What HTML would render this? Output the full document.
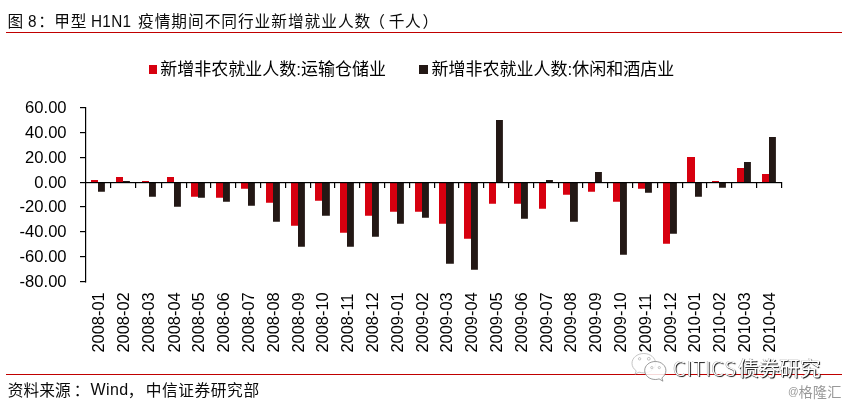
<!DOCTYPE html>
<html lang="zh"><head><meta charset="utf-8"><title>图 8</title>
<style>
html,body{margin:0;padding:0;background:#fff;}
body{width:848px;height:406px;position:relative;overflow:hidden;font-family:"Liberation Sans","Noto Sans CJK SC",sans-serif;color:#111;}
.abs{position:absolute;white-space:nowrap;}
.wrap{position:absolute;left:0;top:0;width:0;height:0;}
.title{top:11px;font-size:15.7px;letter-spacing:0.8px;line-height:22px;color:#0a0a0a;}
.lat{font-size:16.2px;letter-spacing:0.33px;transform:scaleX(0.944);transform-origin:0 100%;top:10.3px;}
.hr{position:absolute;left:6px;width:836px;height:1.5px;background:#c00000;}
.src{top:379.7px;font-size:15.7px;letter-spacing:0.1px;line-height:22px;color:#0a0a0a;}
.src.lat{font-size:16px;letter-spacing:0.45px;transform:none;top:379.1px;}
.lg{font-size:17px;line-height:24px;top:58.4px;color:#000;}
.sq{position:absolute;width:7.5px;height:9px;top:65px;}
svg{position:absolute;left:0;top:0;}
.yl{font-size:17.2px;fill:#000;font-family:"Liberation Sans",sans-serif;}
.xl{font-size:16.45px;fill:#000;font-family:"Liberation Sans",sans-serif;}
.wm{left:673px;top:352.3px;font-size:20.6px;line-height:30px;color:#fff;text-shadow:1px 1px 0.8px #111,-0.5px -0.5px 0.5px #999;font-family:"Noto Sans CJK SC","Liberation Sans",sans-serif;font-weight:400;}
.at{top:382.4px;font-size:14.2px;line-height:20px;color:#999;letter-spacing:0.2px;}
</style></head><body>
<div class="wrap"><span class="abs title" style="left:7.6px">图</span> <span class="abs title lat" style="left:28px">8</span><span class="abs title" style="left:38.3px">：</span><span class="abs title" style="left:54.2px">甲型</span> <span class="abs title lat" style="left:90.6px">H1N1</span> <span class="abs title" style="left:138px;letter-spacing:0.97px">疫情期间不同行业新增就业人数</span><span class="abs title" style="left:369.3px">（</span><span class="abs title" style="left:388.8px;letter-spacing:0.6px">千人</span><span class="abs title" style="left:422.4px">）</span></div>
<div class="hr" style="top:31.5px"></div>
<div class="sq" style="left:149.3px;background:#d7000f"></div>
<div class="abs lg" style="left:160.2px">新增非农就业人数:运输仓储业</div>
<div class="sq" style="left:419.4px;width:8.4px;background:#231815"></div>
<div class="abs lg" style="left:431.5px">新增非农就业人数:休闲和酒店业</div>
<svg width="848" height="406" viewBox="0 0 848 406">
<rect x="91" y="180" width="7" height="2" fill="#d7000f"/>
<rect x="98" y="183" width="6.9" height="8.75" fill="#231815"/>
<rect x="116" y="177" width="7" height="5" fill="#d7000f"/>
<rect x="123" y="181" width="6.9" height="1" fill="#231815"/>
<rect x="142" y="181" width="7" height="1" fill="#d7000f"/>
<rect x="149" y="183" width="6.9" height="13.75" fill="#231815"/>
<rect x="167" y="177" width="7" height="5" fill="#d7000f"/>
<rect x="174" y="183" width="6.9" height="23.75" fill="#231815"/>
<rect x="191" y="183" width="7" height="13.75" fill="#d7000f"/>
<rect x="198" y="183" width="6.9" height="14.75" fill="#231815"/>
<rect x="216" y="183" width="7" height="14.75" fill="#d7000f"/>
<rect x="223" y="183" width="6.9" height="18.75" fill="#231815"/>
<rect x="241" y="183" width="7" height="5.75" fill="#d7000f"/>
<rect x="248" y="183" width="6.9" height="22.75" fill="#231815"/>
<rect x="266" y="183" width="7" height="19.75" fill="#d7000f"/>
<rect x="273" y="183" width="6.9" height="38.75" fill="#231815"/>
<rect x="291" y="183" width="7" height="42.75" fill="#d7000f"/>
<rect x="298" y="183" width="6.9" height="63.75" fill="#231815"/>
<rect x="315" y="183" width="7" height="17.75" fill="#d7000f"/>
<rect x="322" y="183" width="7.85" height="32.75" fill="#231815"/>
<rect x="340" y="183" width="7" height="49.75" fill="#d7000f"/>
<rect x="347" y="183" width="6.9" height="63.75" fill="#231815"/>
<rect x="365" y="183" width="7" height="32.75" fill="#d7000f"/>
<rect x="372" y="183" width="6.9" height="53.75" fill="#231815"/>
<rect x="390" y="183" width="7" height="28.75" fill="#d7000f"/>
<rect x="397" y="183" width="6.9" height="40.75" fill="#231815"/>
<rect x="415" y="183" width="7" height="28.75" fill="#d7000f"/>
<rect x="422" y="183" width="6.9" height="34.75" fill="#231815"/>
<rect x="439" y="183" width="7" height="40.75" fill="#d7000f"/>
<rect x="446" y="183" width="7.85" height="80.75" fill="#231815"/>
<rect x="464" y="183" width="7" height="55.75" fill="#d7000f"/>
<rect x="471" y="183" width="6.9" height="86.75" fill="#231815"/>
<rect x="489" y="183" width="7" height="20.75" fill="#d7000f"/>
<rect x="496" y="120" width="6.9" height="62" fill="#231815"/>
<rect x="514" y="183" width="7" height="20.75" fill="#d7000f"/>
<rect x="521" y="183" width="6.9" height="35.75" fill="#231815"/>
<rect x="539" y="183" width="7" height="25.75" fill="#d7000f"/>
<rect x="546" y="180" width="6.9" height="2" fill="#231815"/>
<rect x="563" y="183" width="7" height="11.75" fill="#d7000f"/>
<rect x="570" y="183" width="7.85" height="38.75" fill="#231815"/>
<rect x="588" y="183" width="7" height="8.75" fill="#d7000f"/>
<rect x="595" y="172" width="6.9" height="10" fill="#231815"/>
<rect x="613" y="183" width="7" height="18.75" fill="#d7000f"/>
<rect x="620" y="183" width="6.9" height="71.75" fill="#231815"/>
<rect x="638" y="183" width="7" height="5.75" fill="#d7000f"/>
<rect x="645" y="183" width="6.9" height="9.75" fill="#231815"/>
<rect x="663" y="183" width="7" height="60.75" fill="#d7000f"/>
<rect x="670" y="183" width="6.9" height="50.75" fill="#231815"/>
<rect x="687" y="157" width="8" height="25" fill="#d7000f"/>
<rect x="695" y="183" width="6.9" height="13.75" fill="#231815"/>
<rect x="712" y="181" width="7" height="1" fill="#d7000f"/>
<rect x="719" y="183" width="6.9" height="4.75" fill="#231815"/>
<rect x="737" y="168" width="7" height="14" fill="#d7000f"/>
<rect x="744" y="162" width="6.9" height="20" fill="#231815"/>
<rect x="762" y="174" width="7" height="8" fill="#d7000f"/>
<rect x="769" y="137" width="6.9" height="45" fill="#231815"/>
<rect x="85" y="107" width="1.2" height="175.5" fill="#000"/>
<rect x="85" y="182" width="697" height="1.2" fill="#000"/>
<rect x="110" y="182" width="1.2" height="6" fill="#000"/>
<rect x="135" y="182" width="1.2" height="6" fill="#000"/>
<rect x="161" y="182" width="1.2" height="6" fill="#000"/>
<rect x="186" y="182" width="1.2" height="6" fill="#000"/>
<rect x="210" y="182" width="1.2" height="6" fill="#000"/>
<rect x="235" y="182" width="1.2" height="6" fill="#000"/>
<rect x="260" y="182" width="1.2" height="6" fill="#000"/>
<rect x="285" y="182" width="1.2" height="6" fill="#000"/>
<rect x="310" y="182" width="1.2" height="6" fill="#000"/>
<rect x="334" y="182" width="1.2" height="6" fill="#000"/>
<rect x="359" y="182" width="1.2" height="6" fill="#000"/>
<rect x="384" y="182" width="1.2" height="6" fill="#000"/>
<rect x="409" y="182" width="1.2" height="6" fill="#000"/>
<rect x="434" y="182" width="1.2" height="6" fill="#000"/>
<rect x="458" y="182" width="1.2" height="6" fill="#000"/>
<rect x="483" y="182" width="1.2" height="6" fill="#000"/>
<rect x="508" y="182" width="1.2" height="6" fill="#000"/>
<rect x="533" y="182" width="1.2" height="6" fill="#000"/>
<rect x="558" y="182" width="1.2" height="6" fill="#000"/>
<rect x="582" y="182" width="1.2" height="6" fill="#000"/>
<rect x="607" y="182" width="1.2" height="6" fill="#000"/>
<rect x="632" y="182" width="1.2" height="6" fill="#000"/>
<rect x="657" y="182" width="1.2" height="6" fill="#000"/>
<rect x="682" y="182" width="1.2" height="6" fill="#000"/>
<rect x="706" y="182" width="1.2" height="6" fill="#000"/>
<rect x="731" y="182" width="1.2" height="6" fill="#000"/>
<rect x="756" y="182" width="1.2" height="6" fill="#000"/>
<rect x="781" y="182" width="1.2" height="6" fill="#000"/>
<rect x="80" y="107" width="6" height="1.2" fill="#000"/>
<text class="yl" transform="translate(66.6,112.6) scale(0.965,1)" text-anchor="end">60.00</text>
<rect x="80" y="132" width="6" height="1.2" fill="#000"/>
<text class="yl" transform="translate(66.6,137.6) scale(0.965,1)" text-anchor="end">40.00</text>
<rect x="80" y="157" width="6" height="1.2" fill="#000"/>
<text class="yl" transform="translate(66.6,162.6) scale(0.965,1)" text-anchor="end">20.00</text>
<rect x="80" y="182" width="6" height="1.2" fill="#000"/>
<text class="yl" transform="translate(66.6,187.6) scale(0.965,1)" text-anchor="end">0.00</text>
<rect x="80" y="206" width="6" height="1.2" fill="#000"/>
<text class="yl" transform="translate(66.6,211.6) scale(0.965,1)" text-anchor="end">-20.00</text>
<rect x="80" y="231" width="6" height="1.2" fill="#000"/>
<text class="yl" transform="translate(66.6,236.6) scale(0.965,1)" text-anchor="end">-40.00</text>
<rect x="80" y="256" width="6" height="1.2" fill="#000"/>
<text class="yl" transform="translate(66.6,261.6) scale(0.965,1)" text-anchor="end">-60.00</text>
<rect x="80" y="281" width="6" height="1.2" fill="#000"/>
<text class="yl" transform="translate(66.6,286.6) scale(0.965,1)" text-anchor="end">-80.00</text>
<text class="xl" transform="translate(103.8,352.6) rotate(-90) scale(1,1.015)">2008-01</text>
<text class="xl" transform="translate(128.8,352.6) rotate(-90) scale(1,1.015)">2008-02</text>
<text class="xl" transform="translate(154.3,352.6) rotate(-90) scale(1,1.015)">2008-03</text>
<text class="xl" transform="translate(179.8,352.6) rotate(-90) scale(1,1.015)">2008-04</text>
<text class="xl" transform="translate(204.3,352.6) rotate(-90) scale(1,1.015)">2008-05</text>
<text class="xl" transform="translate(228.8,352.6) rotate(-90) scale(1,1.015)">2008-06</text>
<text class="xl" transform="translate(253.8,352.6) rotate(-90) scale(1,1.015)">2008-07</text>
<text class="xl" transform="translate(278.8,352.6) rotate(-90) scale(1,1.015)">2008-08</text>
<text class="xl" transform="translate(303.8,352.6) rotate(-90) scale(1,1.015)">2008-09</text>
<text class="xl" transform="translate(328.3,352.6) rotate(-90) scale(1,1.015)">2008-10</text>
<text class="xl" transform="translate(352.8,352.6) rotate(-90) scale(1,1.015)">2008-11</text>
<text class="xl" transform="translate(377.8,352.6) rotate(-90) scale(1,1.015)">2008-12</text>
<text class="xl" transform="translate(402.8,352.6) rotate(-90) scale(1,1.015)">2009-01</text>
<text class="xl" transform="translate(427.8,352.6) rotate(-90) scale(1,1.015)">2009-02</text>
<text class="xl" transform="translate(452.3,352.6) rotate(-90) scale(1,1.015)">2009-03</text>
<text class="xl" transform="translate(476.8,352.6) rotate(-90) scale(1,1.015)">2009-04</text>
<text class="xl" transform="translate(501.8,352.6) rotate(-90) scale(1,1.015)">2009-05</text>
<text class="xl" transform="translate(526.8,352.6) rotate(-90) scale(1,1.015)">2009-06</text>
<text class="xl" transform="translate(551.8,352.6) rotate(-90) scale(1,1.015)">2009-07</text>
<text class="xl" transform="translate(576.3,352.6) rotate(-90) scale(1,1.015)">2009-08</text>
<text class="xl" transform="translate(600.8,352.6) rotate(-90) scale(1,1.015)">2009-09</text>
<text class="xl" transform="translate(625.8,352.6) rotate(-90) scale(1,1.015)">2009-10</text>
<text class="xl" transform="translate(650.8,352.6) rotate(-90) scale(1,1.015)">2009-11</text>
<text class="xl" transform="translate(675.8,352.6) rotate(-90) scale(1,1.015)">2009-12</text>
<text class="xl" transform="translate(700.3,352.6) rotate(-90) scale(1,1.015)">2010-01</text>
<text class="xl" transform="translate(724.8,352.6) rotate(-90) scale(1,1.015)">2010-02</text>
<text class="xl" transform="translate(749.8,352.6) rotate(-90) scale(1,1.015)">2010-03</text>
<text class="xl" transform="translate(774.8,352.6) rotate(-90) scale(1,1.015)">2010-04</text>
</svg>
<div class="hr" style="top:373.5px"></div>
<div class="wrap"><span class="abs src" style="left:7.7px">资料来源</span><span class="abs src" style="left:73.7px">：</span><span class="abs src lat" style="left:90.4px">Wind</span><span class="abs src" style="left:127.8px">，</span><span class="abs src" style="left:145.7px;letter-spacing:0.6px">中信证券研究部</span></div>
<svg width="848" height="406" viewBox="0 0 848 406">
<g fill="#fff" fill-opacity="0.85" stroke="#b5b5b5" stroke-width="0.8">
<path d="M643.8 353.5c-6.6 0-11.8 4.4-11.8 9.8 0 3 1.6 5.7 4.2 7.5l-1.2 3.4 4-2.1c1.5.5 3.1.8 4.8.8 6.6 0 11.8-4.3 11.8-9.6s-5.200-9.800-11.800-9.800z"/>
</g><g fill="#fff" fill-opacity="0.85" stroke="#808080" stroke-width="0.8"><path d="M655.300 361.500c-5.900 0-10.600 4-10.600 9s4.700 9 10.600 9c1.300 0 2.600-.2 3.800-.6l3.800 2.300-1-3.300c2.400-1.700 4-4.300 4-7.400 0-5-4.700-9-10.600-9z"/>
</g>
<g fill="#fff" stroke="#aaa" stroke-width="0.7">
<circle cx="639.600" cy="358.800" r="1.200"/><circle cx="648.800" cy="358.800" r="1.400"/>
<circle cx="651.800" cy="367.600" r="1.100"/><circle cx="659.300" cy="367.600" r="1.100"/>
</g>
</svg>
<div class="abs wm"><span style="letter-spacing:0.55px;margin-right:1.3px;font-weight:300">CITICS</span>债券研究</div>
<div class="wrap"><span class="abs at" style="left:787.6px;font-size:11.6px;top:380.8px;transform:scaleX(0.9);transform-origin:0 50%">@</span><span class="abs at" style="left:798.4px">格隆汇</span></div>
</body></html>
